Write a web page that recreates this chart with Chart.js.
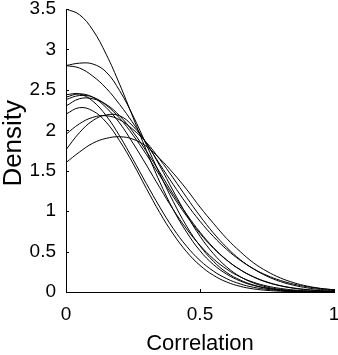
<!DOCTYPE html>
<html>
<head>
<meta charset="utf-8">
<script src="https://cdn.jsdelivr.net/npm/chart.js@4/dist/chart.umd.min.js"></script>
<style>
  html, body { margin: 0; padding: 0; background: #fff; }
  #wrap { width: 338px; height: 355px; position: relative; }
</style>
</head>
<body>
<div id="wrap"><canvas id="densityChart"></canvas></div>
<script>
const xs = [0, 0.05, 0.1, 0.15, 0.2, 0.25, 0.3, 0.35, 0.4, 0.45, 0.5, 0.55, 0.6, 0.65, 0.7, 0.75, 0.8, 0.85, 0.9, 0.95, 1];

const curveA = [3.50, 3.43, 3.24, 2.94, 2.57, 2.16, 1.75, 1.36, 1.02, 0.74, 0.51, 0.34, 0.22, 0.136, 0.081, 0.046, 0.026, 0.013, 0.007, 0.004, 0.002];
const curveB = [2.80, 2.83, 2.82, 2.72, 2.49, 2.18, 1.82, 1.46, 1.12, 0.815, 0.57, 0.38, 0.24, 0.148, 0.086, 0.048, 0.025, 0.013, 0.006, 0.003, 0.001];
const curveC = [2.80, 2.77, 2.67, 2.52, 2.32, 2.09, 1.84, 1.58, 1.33, 1.09, 0.875, 0.686, 0.525, 0.392, 0.287, 0.205, 0.143, 0.097, 0.065, 0.042, 0.027];
const curveD = [2.44, 2.45, 2.36, 2.18, 1.93, 1.64, 1.34, 1.05, 0.786, 0.566, 0.39, 0.259, 0.164, 0.10, 0.058, 0.033, 0.018, 0.009, 0.004, 0.002, 0.001];
const curveE = [2.41, 2.45, 2.41, 2.28, 2.09, 1.84, 1.57, 1.29, 1.02, 0.78, 0.577, 0.41, 0.282, 0.187, 0.12, 0.074, 0.044, 0.025, 0.014, 0.008, 0.004];
const curveF = [2.38, 2.43, 2.41, 2.31, 2.15, 1.94, 1.70, 1.44, 1.18, 0.94, 0.724, 0.542, 0.393, 0.276, 0.188, 0.124, 0.079, 0.049, 0.030, 0.017, 0.010];
const curveG = [2.30, 2.39, 2.39, 2.32, 2.18, 1.98, 1.74, 1.48, 1.21, 0.963, 0.74, 0.55, 0.395, 0.275, 0.185, 0.12, 0.076, 0.046, 0.027, 0.015, 0.008];
const curveH = [2.20, 2.28, 2.24, 2.10, 1.87, 1.59, 1.28, 0.98, 0.717, 0.498, 0.329, 0.207, 0.123, 0.070, 0.038, 0.020, 0.010, 0.004, 0.002, 0.001, 0];
const curveI = [1.95, 2.08, 2.16, 2.18, 2.13, 2.01, 1.85, 1.64, 1.41, 1.17, 0.94, 0.73, 0.55, 0.40, 0.285, 0.195, 0.129, 0.083, 0.051, 0.031, 0.018];
const curveJ = [1.76, 1.97, 2.12, 2.19, 2.18, 2.05, 1.84, 1.56, 1.25, 0.955, 0.69, 0.474, 0.308, 0.19, 0.111, 0.061, 0.032, 0.016, 0.008, 0.004, 0.002];
const curveK = [1.60, 1.73, 1.84, 1.90, 1.92, 1.89, 1.80, 1.65, 1.47, 1.27, 1.05, 0.85, 0.66, 0.50, 0.36, 0.255, 0.174, 0.115, 0.073, 0.045, 0.027];

const curves = [curveA, curveB, curveC, curveD, curveE, curveF, curveG, curveH, curveI, curveJ, curveK];

const xTicks = [0, 0.5, 1];
const yTicks = [0, 0.5, 1, 1.5, 2, 2.5, 3, 3.5];

const FONT = "'Liberation Sans', Arial, Helvetica, sans-serif";

// small inward tick marks, matlab style
const inwardTicks = {
    id: 'inwardTicks',
    afterDraw(chart) {
        const { ctx, chartArea, scales } = chart;
        ctx.save();
        ctx.strokeStyle = '#000';
        ctx.lineWidth = 1;
        ctx.beginPath();
        xTicks.forEach(v => {
            const px = Math.round(scales.x.getPixelForValue(v)) + 0.5;
            ctx.moveTo(px, chartArea.bottom);
            ctx.lineTo(px, chartArea.bottom - 3);
        });
        yTicks.forEach(v => {
            const py = Math.round(scales.y.getPixelForValue(v)) + 0.5;
            ctx.moveTo(chartArea.left, py);
            ctx.lineTo(chartArea.left + 3, py);
        });
        ctx.stroke();
        ctx.restore();
    }
};

const datasets = curves.map(c => ({
    data: c.map((v, i) => ({ x: xs[i], y: v })),
    borderColor: '#000',
    borderWidth: 1,
    pointRadius: 0,
    fill: false,
    tension: 0.4
}));

new Chart(document.getElementById('densityChart'), {
    type: 'line',
    data: { datasets },
    options: {
        responsive: true,
        maintainAspectRatio: false,
        devicePixelRatio: 1,
        animation: false,
        layout: { padding: { top: 9, right: 4, left: 0, bottom: 0 } },
        plugins: { legend: { display: false }, tooltip: { enabled: false } },
        scales: {
            x: {
                type: 'linear',
                min: 0,
                max: 1,
                afterBuildTicks: s => { s.ticks = xTicks.map(v => ({ value: v })); },
                afterFit: s => { s.height = 63; s.paddingLeft = 0; s.paddingRight = 0; },
                grid: { display: false, drawTicks: false },
                border: { display: true, color: '#000', width: 1 },
                ticks: {
                    color: '#000',
                    padding: 11,
                    maxRotation: 0,
                    font: { family: FONT, size: 19 },
                    callback: v => String(v)
                },
                title: {
                    display: true,
                    text: 'Correlation',
                    color: '#000',
                    font: { family: FONT, size: 22, lineHeight: 1 },
                    padding: { top: 0, bottom: 0 }
                }
            },
            y: {
                type: 'linear',
                min: 0,
                max: 3.5,
                afterBuildTicks: s => { s.ticks = yTicks.map(v => ({ value: v })); },
                afterFit: s => { s.width = 66; s.paddingTop = 0; s.paddingBottom = 0; },
                grid: { display: false, drawTicks: false },
                border: { display: true, color: '#000', width: 1 },
                ticks: {
                    color: '#000',
                    padding: 10,
                    font: { family: FONT, size: 19 },
                    callback: v => String(v)
                },
                title: {
                    display: true,
                    text: '  Density',
                    color: '#000',
                    font: { family: FONT, size: 26, lineHeight: 1 },
                    padding: { top: 1, bottom: 0 }
                }
            }
        }
    },
    plugins: [inwardTicks]
});
</script>
</body>
</html>
